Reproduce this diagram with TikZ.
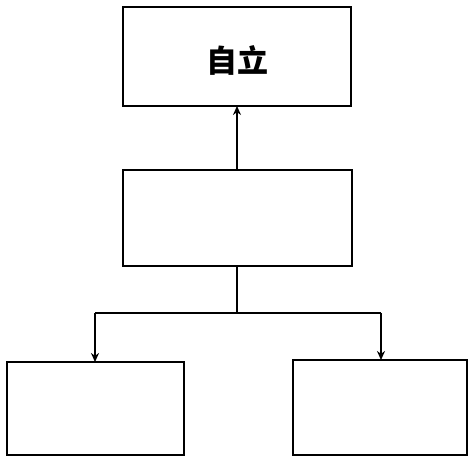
\documentclass[tikz,border=0pt]{standalone}
\usepackage{fontspec}
\newfontfamily\cjk{Noto Sans CJK SC}
\usetikzlibrary{arrows.meta}
\begin{document}
\begin{tikzpicture}[x=1pt,y=1pt,
  box/.style={draw=black,line width=1.8pt,fill=white},
  conn/.style={line width=1.5pt,-{Stealth[length=9pt,width=8pt]}},
  link/.style={line width=1.5pt}]
\useasboundingbox (0,0) rectangle (469,-457);
\path[box] (123,-7) rectangle (351,-106);
\coordinate (topS) at (237,-106);
\node[font=\cjk\bfseries\fontsize{31}{33}\selectfont] (top) at (237,-60) {自立};
\path[box] (123,-170) rectangle (352,-266);
\coordinate (midN) at (237,-170);
\coordinate (midS) at (237,-266);
\path[box] (7,-362) rectangle (184,-455);
\path[box] (293,-360) rectangle (467,-455);
\coordinate (lN) at (95,-362);
\coordinate (rN) at (381,-360);
\coordinate (j) at (237,-313);
\coordinate (jl) at (95,-313);
\coordinate (jr) at (381,-313);
\draw[conn] (midN) -- (topS);
\draw[link] (midS) -- (j);
\draw[link] (jl) -- (jr);
\draw[conn] (jl) -- (lN);
\draw[conn] (jr) -- (rN);
\end{tikzpicture}
\end{document}
